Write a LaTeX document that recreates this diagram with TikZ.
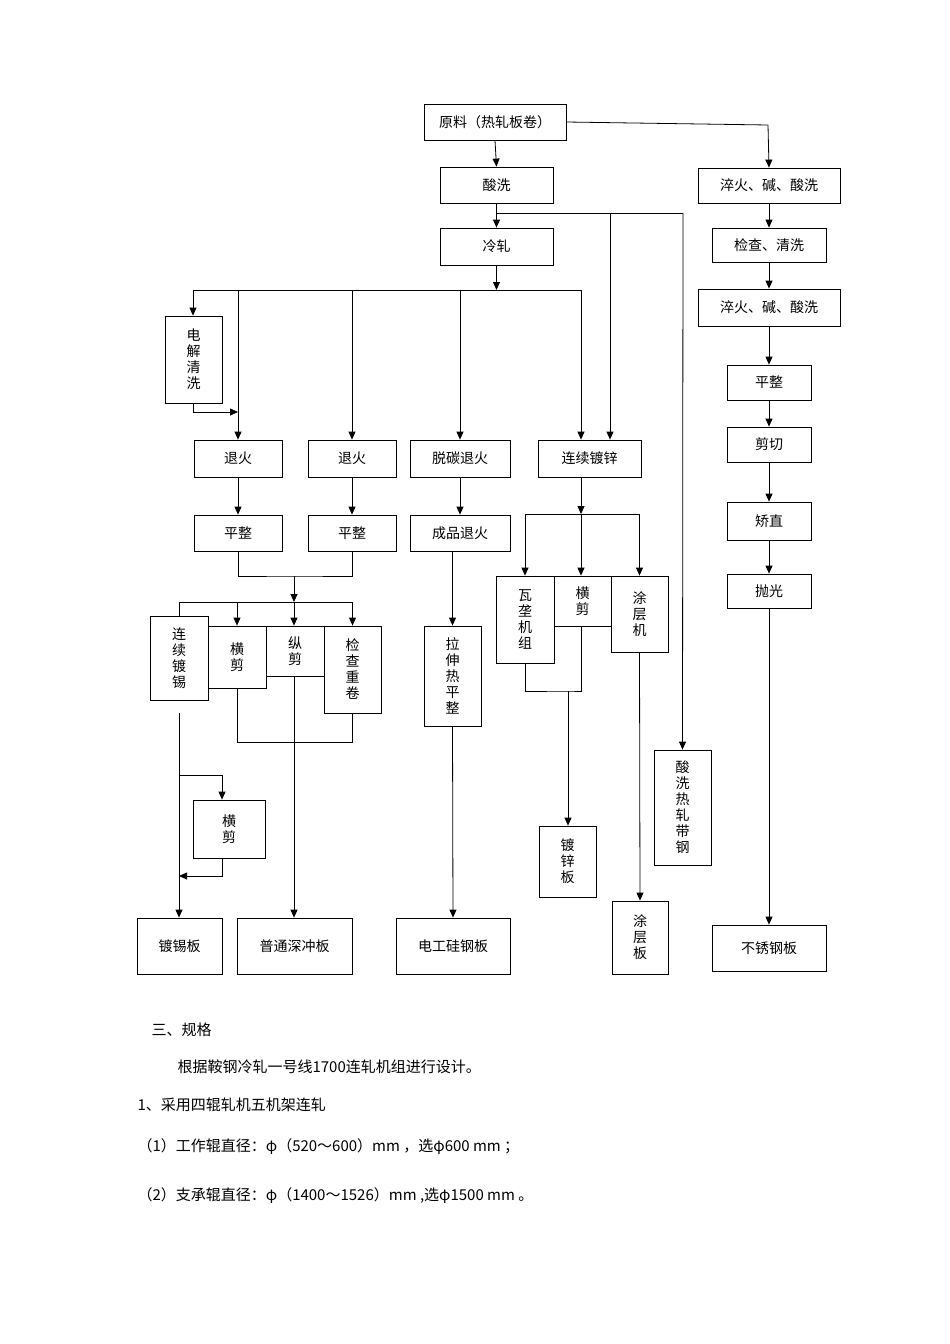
\documentclass[tikz,border=0pt]{standalone}
\usepackage{fontspec}
\usepackage{tikz}
\usetikzlibrary{arrows.meta,positioning}
\newfontfamily\cjk{Noto Sans CJK SC}
\tikzset{
    % boxes of the flow chart
    box/.style={
           rectangle,
           draw=black,
           thick,
           inner sep=0pt,
           align=center,
           font=\cjk\fontsize{14}{16}\selectfont},
    % arrow style
    arr/.style={
           -{Triangle[length=8pt,width=7pt]},
           thick},
    ln/.style={thick},
    txt/.style={anchor=west, font=\cjk\fontsize{15}{18}\selectfont}
}
\begin{document}
\begin{tikzpicture}[x=1pt,y=-1pt]
    \useasboundingbox (0,0) rectangle (950,1344);
    % main line
    \node [box, minimum width=142, minimum height=36] (raw) at (495,122) {原料（热轧板卷）};
    \node [box, minimum width=113, minimum height=36] (acid) at (496.5,185) {酸洗};
    \node [box, minimum width=113, minimum height=37] (cold) at (496.5,246.5) {冷轧};
    % stainless line
    \node [box, minimum width=142, minimum height=35] (quench1) at (769,185.5) {淬火、碱、酸洗};
    \node [box, minimum width=114, minimum height=34] (check) at (769,245) {检查、清洗};
    \node [box, minimum width=142, minimum height=37] (quench2) at (769,307.5) {淬火、碱、酸洗};
    \node [box, minimum width=84, minimum height=35] (flatS) at (769,382.5) {平整};
    \node [box, minimum width=84, minimum height=35] (cutS) at (769,444.5) {剪切};
    \node [box, minimum width=84, minimum height=38] (straight) at (769,521) {矫直};
    \node [box, minimum width=84, minimum height=34] (polish) at (769,591) {抛光};
    \node [box, minimum width=114, minimum height=46] (stainless) at (769,948) {不锈钢板};
    % branches after cold rolling
    \node [box, minimum width=57, minimum height=87] (clean) at (193.5,359.5) {电\\解\\清\\洗};
    \node [box, minimum width=88, minimum height=37] (annealA) at (238,458.5) {退火};
    \node [box, minimum width=88, minimum height=37] (annealB) at (352,458.5) {退火};
    \node [box, minimum width=100, minimum height=37] (decarb) at (460,458.5) {脱碳退火};
    \node [box, minimum width=103, minimum height=37] (galv) at (589.5,458.5) {连续镀锌};
    \node [box, minimum width=88, minimum height=36] (flatA) at (238,533) {平整};
    \node [box, minimum width=88, minimum height=36] (flatB) at (352,533) {平整};
    \node [box, minimum width=100, minimum height=36] (final) at (460,533) {成品退火};
    % tin plate group
    \node [box, minimum width=58, minimum height=84] (tin) at (179,658) {连\\续\\镀\\锡};
    \node [box, minimum width=58, minimum height=62] (crossA) at (237,657) {横\\剪};
    \node [box, minimum width=58, minimum height=50] (slit) at (295,651) {纵\\剪};
    \node [box, minimum width=57, minimum height=87] (recoil) at (352.5,669.5) {检\\查\\重\\卷};
    \node [box, minimum width=72, minimum height=58] (crossC) at (229,829) {横\\剪};
    \node [box, minimum width=57, minimum height=100] (stretch) at (452.5,676) {拉\\伸\\热\\平\\整};
    % galvanizing group
    \node [box, minimum width=58, minimum height=87] (corr) at (525,619.5) {瓦\\垄\\机\\组};
    \node [box, minimum width=57, minimum height=50] (crossB) at (582.5,601) {横\\剪};
    \node [box, minimum width=57, minimum height=76] (coat) at (639.5,614) {涂\\层\\机};
    \node [box, minimum width=57, minimum height=115] (pickled) at (682.5,807.5) {酸\\洗\\热\\轧\\带\\钢};
    % products
    \node [box, minimum width=85, minimum height=56] (tinP) at (179.5,946) {镀锡板};
    \node [box, minimum width=115, minimum height=56] (deepP) at (294.5,946) {普通深冲板};
    \node [box, minimum width=114, minimum height=56] (siliconP) at (453,946) {电工硅钢板};
    \node [box, minimum width=57, minimum height=71] (galvP) at (567.5,861.5) {镀\\锌\\板};
    \node [box, minimum width=56, minimum height=73] (coatP) at (640,937.5) {涂\\层\\板};

    % junction points
    \coordinate (topS) at (768,125);
    \coordinate (spA) at (496.5,213);
    \coordinate (spG) at (610,213);
    \coordinate (spP) at (683,213);
    \coordinate (busL) at (193,290);
    \coordinate (busA) at (238,290);
    \coordinate (busB) at (352,290);
    \coordinate (busD) at (460,290);
    \coordinate (busG) at (581,290);
    \coordinate (cleanOut) at (238,412);
    \coordinate (mergeF) at (294,576);
    \coordinate (busT) at (294,602);
    \coordinate (tinL) at (179,602);
    \coordinate (tinOut) at (179,713);
    \coordinate (tinBr) at (179,775);
    \coordinate (tinBack) at (179,876);
    \coordinate (joinB) at (237,742);
    \coordinate (galvBus) at (581,514);
    \coordinate (joinG) at (568,691);

    % connectors
    \draw [ln] (raw.east) -- (topS);
    \draw [arr] (topS) -- (quench1.north);
    \draw [arr] (raw.south) -- (acid.north);
    \draw [arr] (acid.south) -- (cold.north);
    \draw [ln] (spA) -- (spP);
    \draw [arr] (spG) -- (spG |- galv.north);
    \draw [arr] (spP) -- (pickled.north);
    \draw [arr] (cold.south) -- (cold.south |- busG);
    \draw [ln] (busL) -- (busG);
    \draw [arr] (busL) -- (clean.north -| busL);
    \draw [arr] (busA) -- (annealA.north);
    \draw [arr] (busB) -- (annealB.north);
    \draw [arr] (busD) -- (decarb.north);
    \draw [arr] (busG) -- (busG |- galv.north);
    \draw [arr] (clean.south -| busL) |- (cleanOut);
    \draw [arr] (annealA) -- (flatA);
    \draw [arr] (annealB) -- (flatB);
    \draw [arr] (decarb) -- (final);
    \draw [ln] (flatA.south) |- (mergeF) -| (flatB.south);
    \draw [arr] (mergeF) -- (busT);
    \draw [ln] (tinL) -- (recoil.north |- busT);
    \draw [ln] (tinL) -- (tin.north -| tinL);
    \draw [arr] (busT -| crossA.north) -- (crossA.north);
    \draw [arr] (busT) -- (slit.north -| busT);
    \draw [arr] (recoil.north |- busT) -- (recoil.north);
    \draw [ln] (crossA.south) |- (joinB) -| (recoil.south);
    \draw [arr] (slit.south -| busT) -- (deepP.north -| busT);
    \draw [arr] (tinOut) -- (tinP.north -| tinOut);
    \draw [arr] (tinBr) -| (crossC.north -| 222,0);
    \draw [arr] (crossC.south -| 222,0) |- (tinBack);
    \draw [arr] (final.south -| stretch.north) -- (stretch.north);
    \draw [arr] (stretch.south) -- (siliconP.north);
    \draw [arr] (galv.south -| galvBus) -- (galvBus);
    \draw [ln] (galvBus -| corr.north) -- (galvBus -| coat.north);
    \draw [arr] (galvBus -| corr.north) -- (corr.north);
    \draw [arr] (galvBus) -- (galvBus |- crossB.north);
    \draw [arr] (galvBus -| coat.north) -- (coat.north);
    \draw [ln] (corr.south) |- (joinG) -| (crossB.south -| galvBus);
    \draw [arr] (joinG) -- (galvP.north -| joinG);
    \draw [arr] (coat.south) -- (coatP.north);
    \draw [arr] (quench1) -- (check);
    \draw [arr] (check) -- (quench2);
    \draw [arr] (quench2) -- (flatS);
    \draw [arr] (flatS) -- (cutS);
    \draw [arr] (cutS) -- (straight);
    \draw [arr] (straight) -- (polish);
    \draw [arr] (polish) -- (stainless);

    % text below
    \node [txt] (spec) at (148,1030) {三、规格};
    \node [txt] (basis) at (174,1067) {根据鞍钢冷轧一号线1700连轧机组进行设计。};
    \node [txt] (item1) at (134,1105) {1、采用四辊轧机五机架连轧};
    \node [txt] (item2) at (134,1147) {（1）工作辊直径：φ（520～600）mm ，选φ600 mm ；};
    \node [txt] (item3) at (134,1196) {（2）支承辊直径：φ（1400～1526）mm ,选φ1500 mm 。};
\end{tikzpicture}
\end{document}
